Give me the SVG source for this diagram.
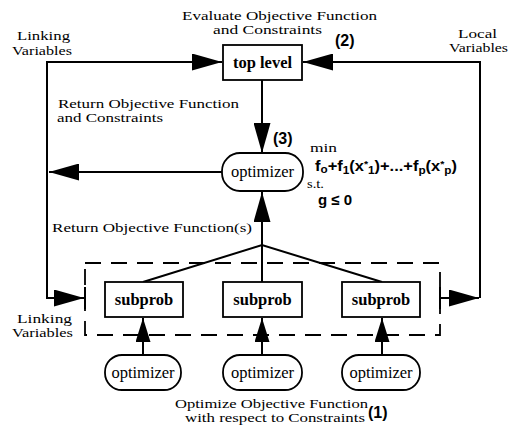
<svg xmlns="http://www.w3.org/2000/svg" width="509" height="431" viewBox="0 0 509 431">
<style>
.box{fill:#fff;stroke:#000;stroke-width:1.8}
.opt{fill:#fff;stroke:#000;stroke-width:1.8}
.line{fill:none;stroke:#000;stroke-width:2}
.dash{fill:none;stroke:#000;stroke-width:1.8;stroke-dasharray:16 10}
.lbl{font-family:"Liberation Serif",serif;font-size:13.5px;fill:#000}
.node{font-family:"Liberation Serif",serif;font-size:16.5px;fill:#000;text-anchor:middle}
.bold{font-weight:bold}
.sans{font-family:"Liberation Sans",Arial,sans-serif;font-weight:bold;fill:#000}
</style>
<defs>
<marker id="ah" markerUnits="userSpaceOnUse" markerWidth="30" markerHeight="17" refX="30" refY="8.5" orient="auto">
<path d="M0,0 L30,8.5 L0,17 z" fill="#000"/>
</marker>
<marker id="ahs" markerUnits="userSpaceOnUse" markerWidth="24" markerHeight="15" refX="24" refY="7.5" orient="auto">
<path d="M0,0 L24,7.5 L0,15 z" fill="#000"/>
</marker>
</defs>

<g id="connectors">
<path class="line" d="M222,172 L49,172" marker-end="url(#ah)"/>
<path class="line" d="M47,172 L47,62 L222,62" marker-end="url(#ah)"/>
<path class="line" d="M47,172 L47,298 L84,298" marker-end="url(#ah)"/>
<line class="line" x1="85" y1="287" x2="85" y2="309"/>
<path class="line" d="M440,298 L479,298" marker-end="url(#ah)"/>
<path class="line" d="M480,298 L480,62 L303,62" marker-end="url(#ah)"/>
<line class="line" x1="440" y1="287" x2="440" y2="309"/>
<path class="line" d="M262,80 L262,153" marker-end="url(#ah)"/>
<path class="line" d="M143,282 L262,245 L382,282"/>
<path class="line" d="M262,282 L262,192" marker-end="url(#ah)"/>
<path class="line" d="M143,355 L143,318" marker-end="url(#ahs)"/>
<path class="line" d="M262,355 L262,318" marker-end="url(#ahs)"/>
<path class="line" d="M382,355 L382,318" marker-end="url(#ahs)"/>
<rect class="dash" x="85" y="263" width="355" height="72"/>
</g>

<g id="top-level">
<rect class="box" x="223" y="45" width="79" height="35"/>
<text class="node bold" x="262.5" y="68">top level</text>
</g>

<g id="optimizer-main">
<rect class="opt" x="222" y="153" width="81" height="38" rx="18" ry="18"/>
<text class="node" x="262.5" y="177">optimizer</text>
</g>

<g id="subprob-1">
<rect class="box" x="105" y="282" width="78" height="35"/>
<text class="node bold" x="144" y="305">subprob</text>
</g>
<g id="subprob-2">
<rect class="box" x="223" y="282" width="79" height="35"/>
<text class="node bold" x="262.5" y="305">subprob</text>
</g>
<g id="subprob-3">
<rect class="box" x="342" y="282" width="78" height="35"/>
<text class="node bold" x="381" y="305">subprob</text>
</g>

<g id="optimizer-1">
<rect class="opt" x="105" y="355" width="76" height="35" rx="17" ry="17"/>
<text class="node" x="143" y="378">optimizer</text>
</g>
<g id="optimizer-2">
<rect class="opt" x="223" y="355" width="79" height="35" rx="17" ry="17"/>
<text class="node" x="262.5" y="378">optimizer</text>
</g>
<g id="optimizer-3">
<rect class="opt" x="342" y="355" width="78" height="35" rx="17" ry="17"/>
<text class="node" x="381" y="378">optimizer</text>
</g>

<g id="labels">
<text class="lbl" x="182" y="20" textLength="195" lengthAdjust="spacingAndGlyphs">Evaluate Objective Function</text>
<text class="lbl" x="213" y="34" textLength="109" lengthAdjust="spacingAndGlyphs">and Constraints</text>
<text class="sans" x="335" y="46" font-size="16">(2)</text>
<text class="lbl" x="17" y="40" textLength="53" lengthAdjust="spacingAndGlyphs">Linking</text>
<text class="lbl" x="12" y="55" textLength="60" lengthAdjust="spacingAndGlyphs">Variables</text>
<text class="lbl" x="458" y="38" textLength="39" lengthAdjust="spacingAndGlyphs">Local</text>
<text class="lbl" x="449" y="52" textLength="59" lengthAdjust="spacingAndGlyphs">Variables</text>
<text class="lbl" x="58" y="108" textLength="181" lengthAdjust="spacingAndGlyphs">Return Objective Function</text>
<text class="lbl" x="57" y="122" textLength="106" lengthAdjust="spacingAndGlyphs">and Constraints</text>
<text class="sans" x="273" y="144" font-size="16">(3)</text>
<text class="lbl" x="310" y="152" textLength="27" lengthAdjust="spacingAndGlyphs">min</text>
<text class="sans" x="315" y="171" font-size="14" textLength="142" lengthAdjust="spacingAndGlyphs">f<tspan font-size="10" dy="2">o</tspan><tspan dy="-2">+f</tspan><tspan font-size="10" dy="3">1</tspan><tspan dy="-3">(x</tspan><tspan font-size="9" dy="-4">*</tspan><tspan font-size="10" dy="7">1</tspan><tspan dy="-3">)+...+f</tspan><tspan font-size="10" dy="3">p</tspan><tspan dy="-3">(x</tspan><tspan font-size="9" dy="-4">*</tspan><tspan font-size="10" dy="7">p</tspan><tspan dy="-3">)</tspan></text>
<text class="lbl" x="307" y="188" textLength="17" lengthAdjust="spacingAndGlyphs">s.t.</text>
<text class="sans" x="318" y="205" font-size="15">g ≤ 0</text>
<text class="lbl" x="52" y="232" textLength="200" lengthAdjust="spacingAndGlyphs">Return Objective Function(s)</text>
<text class="lbl" x="17" y="323" textLength="55" lengthAdjust="spacingAndGlyphs">Linking</text>
<text class="lbl" x="12" y="337" textLength="61" lengthAdjust="spacingAndGlyphs">Variables</text>
<text class="lbl" x="175" y="408" textLength="193" lengthAdjust="spacingAndGlyphs">Optimize Objective Function</text>
<text class="lbl" x="185" y="422" textLength="180" lengthAdjust="spacingAndGlyphs">with respect to Constraints</text>
<text class="sans" x="368" y="418" font-size="16">(1)</text>
</g>
</svg>
